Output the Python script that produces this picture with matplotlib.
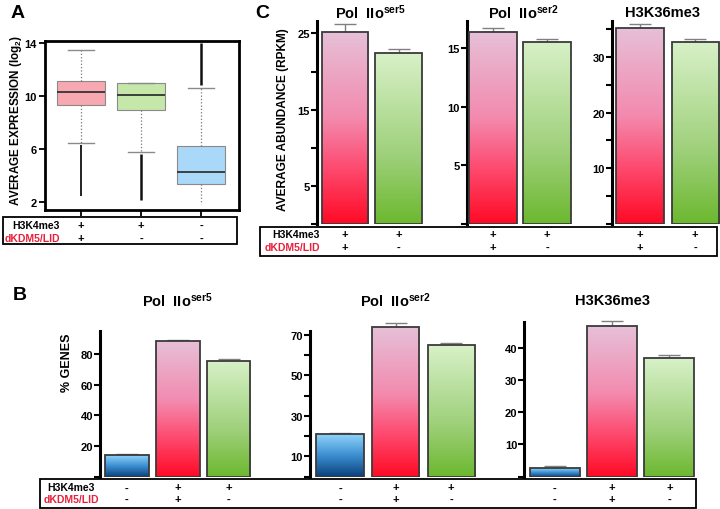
import numpy as np
import matplotlib
matplotlib.use('Agg')
import matplotlib.pyplot as plt
from matplotlib.colors import LinearSegmentedColormap
from matplotlib.patches import Rectangle
from matplotlib.transforms import blended_transform_factory

plt.rcParams['font.family'] = ['Liberation Sans', 'DejaVu Sans']
plt.rcParams['font.weight'] = 'bold'
plt.rcParams['mathtext.fontset'] = 'custom'
plt.rcParams['mathtext.rm'] = 'Liberation Sans:bold'
plt.rcParams['mathtext.it'] = 'Liberation Sans:bold'
plt.rcParams['mathtext.bf'] = 'Liberation Sans:bold'
plt.rcParams['mathtext.default'] = 'bf'

# ---- data ----
# panel A boxplots
a_med = [10.27, 10.04, 4.26]
a_q1 = [9.27, 8.89, 3.30]
a_q3 = [11.13, 10.98, 6.20]
a_whislo = [6.40, 5.74, 1.85]
a_whishi = [13.44, 10.98, 10.60]
a_flier_ranges = [(2.42, 6.25), (2.10, 5.60), (10.80, 14.0)]
a_h3k4 = ['+', '+', '-']
a_lid = ['+', '-', '-']

# panel B (% genes)
b_titles = ['Pol  IIo$^{ser5}$', 'Pol  IIo$^{ser2}$', 'H3K36me3']
b_ser5 = [13.9, 88.7, 75.7]
b_ser5_err = [0.6, 0.4, 0.8]
b_ser2 = [21.0, 73.8, 64.7]
b_ser2_err = [0.5, 2.0, 1.3]
b_h3k36 = [2.6, 46.7, 36.9]
b_h3k36_err = [0.6, 1.7, 1.0]
b_h3k4 = ['-', '+', '+']
b_lid = ['-', '+', '-']

# panel C (RPKM)
c_ser5 = [25.2, 22.4]
c_ser5_err = [1.1, 0.5]
c_ser2 = [16.4, 15.55]
c_ser2_err = [0.34, 0.25]
c_h3k36 = [35.2, 32.75]
c_h3k36_err = [0.7, 0.45]
c_h3k4 = ['+', '+']
c_lid = ['+', '-']

W, H = 720, 510
fig = plt.figure(figsize=(7.2, 5.1), dpi=100)

red_txt = '#e8203a'
pink_cm = LinearSegmentedColormap.from_list('pk', [(0, '#ff0a25'), (0.3, '#fd4d72'), (0.55, '#f38aae'), (1, '#e6c0d8')])
green_cm = LinearSegmentedColormap.from_list('gr', [(0, '#6cb82f'), (0.4, '#9ed07a'), (1, '#d8f1c8')])
blue_cm = LinearSegmentedColormap.from_list('bl', [(0, '#0a3f7a'), (0.5, '#3b8ed0'), (1, '#8fd3fa')])
grad = np.linspace(0, 1, 256).reshape(-1, 1)


def px_axes(x0, y0, x1, y1):
    return fig.add_axes([x0 / W, 1 - y1 / H, (x1 - x0) / W, (y1 - y0) / H])


def ftext(x, y, s, **kw):
    return fig.text(x / W, 1 - y / H, s, **kw)


def table_box(x0, y0, x1, y1):
    fig.add_artist(Rectangle((x0 / W, 1 - y1 / H), (x1 - x0) / W, (y1 - y0) / H,
                             transform=fig.transFigure, fill=False, lw=1.3, ec='k'))


def signs(axes, xs, r1, r2, row1, row2):
    for ax in axes:
        tr = blended_transform_factory(ax.transData, fig.transFigure)
        for x, s1, s2 in zip(xs, row1, row2):
            fig.text(x, 1 - r1 / H, s1, transform=tr, ha='center', va='center', fontsize=8)
            fig.text(x, 1 - r2 / H, s2, transform=tr, ha='center', va='center', fontsize=8)


def bar_panel(box, vals, errs, cmaps, width, xlim, ylim, spine_top, major, minor):
    ax = px_axes(*box)
    x = np.arange(len(vals))
    for i in range(len(vals)):
        bar = ax.bar(x[i], vals[i], width, color='none', edgecolor='#3a3a3a', lw=1.3, zorder=3)[0]
        img = ax.imshow(grad, cmap=cmaps[i], aspect='auto', origin='lower',
                        extent=(x[i] - width / 2, x[i] + width / 2, 0, vals[i]), zorder=2)
        img.set_clip_path(bar)
    ax.errorbar(x, vals, yerr=[np.zeros(len(vals)), errs], fmt='none', ecolor='#808080',
                elinewidth=1, capsize=8, capthick=1, zorder=1)
    ax.set_xlim(*xlim)
    ax.set_ylim(*ylim)
    for s in ['top', 'right', 'bottom']:
        ax.spines[s].set_visible(False)
    ax.spines['left'].set_linewidth(2.2)
    ax.spines['left'].set_bounds(0, spine_top)
    ax.set_xticks([])
    ax.set_yticks(major)
    ax.set_yticks(minor, minor=True)
    ax.tick_params(axis='y', which='both', direction='out', length=4, width=1.5, labelsize=8, pad=1)
    ax.set_facecolor('none')
    return ax, x


# ---- panel A ----
axA = px_axes(45, 42, 239, 211)
stats = []
for i in range(3):
    stats.append(dict(med=a_med[i], q1=a_q1[i], q3=a_q3[i], whislo=a_whislo[i],
                      whishi=a_whishi[i], fliers=[]))
bp = axA.bxp(stats, positions=[1, 2, 3], widths=0.81, patch_artist=True, showfliers=False,
             capwidths=0.43,
             boxprops=dict(edgecolor='#8a8a8a', lw=0.8),
             medianprops=dict(color='#333333', lw=1.3),
             whiskerprops=dict(color='#777777', ls=':', lw=0.9),
             capprops=dict(color='#8a8a8a', lw=1.0))
for patch, c in zip(bp['boxes'], ['#f8a8b0', '#c6e7aa', '#a9d8f8']):
    patch.set_facecolor(c)
bp['caps'][4].set_visible(False)
for pos, (lo, hi), lw in zip([1, 2, 3], a_flier_ranges, [1.3, 1.8, 1.8]):
    axA.vlines(pos, lo, hi, color='#111111', lw=lw, zorder=1)
axA.set_xlim(0.4, 3.63)
axA.set_ylim(1.37, 14.12)
axA.set_yticks([2, 6, 10, 14])
axA.set_xticks([1, 2, 3])
axA.set_xticklabels([])
axA.tick_params(direction='out', length=4, width=1.3, labelsize=8, pad=2)
for s in axA.spines.values():
    s.set_linewidth(2.0)
ftext(16, 120, 'AVERAGE EXPRESSION (log$_2$)', rotation=90, ha='center', va='center', fontsize=8.4)
ftext(18, 13, 'A', ha='center', va='center', fontsize=14)
table_box(3, 218, 237, 245)
ftext(60, 226, 'H3K4me3', ha='right', va='center', fontsize=7.5, color='k')
ftext(60, 239, 'dKDM5/LID', ha='right', va='center', fontsize=7.5, color=red_txt)
signs([axA], [1, 2, 3], 226, 239, a_h3k4, a_lid)

# ---- panel C ----
pg = [pink_cm, green_cm]
axC1, xc = bar_panel((317, 22.3, 425.5, 225), c_ser5, c_ser5_err, pg, 0.87, (-0.52, 1.5),
                     (0, 26.6), 26.6, [5, 15, 25], [0, 10, 20])
axC2, _ = bar_panel((466.7, 22.3, 574, 225), c_ser2, c_ser2_err, pg, 0.89, (-0.49, 1.5),
                    (0, 17.3), 17.3, [5, 10, 15], [0])
axC3, _ = bar_panel((612, 22.3, 720, 225), c_h3k36, c_h3k36_err, pg, 0.86, (-0.51, 1.45),
                    (0, 36.4), 36.4, [10, 20, 30], [0, 5, 15, 25, 35])
ftext(262, 13, 'C', ha='center', va='center', fontsize=14)
ftext(370, 13, 'Pol  IIo$^{ser5}$', ha='center', va='center', fontsize=10.5)
ftext(523, 13, 'Pol  IIo$^{ser2}$', ha='center', va='center', fontsize=10.5)
ftext(663, 13, 'H3K36me3', ha='center', va='center', fontsize=10.5)
ftext(283, 120, 'AVERAGE ABUNDANCE (RPKM)', rotation=90, ha='center', va='center', fontsize=8.6)
table_box(260, 228, 717, 257)
ftext(320, 235, 'H3K4me3', ha='right', va='center', fontsize=7.5, color='k')
ftext(320, 248, 'dKDM5/LID', ha='right', va='center', fontsize=7.5, color=red_txt)
signs([axC1, axC2, axC3], xc, 235, 248, c_h3k4, c_lid)

# ---- panel B ----
bpg = [blue_cm, pink_cm, green_cm]
axB1, xb = bar_panel((100, 331.7, 254, 477.7), b_ser5, b_ser5_err, bpg, 0.86, (-0.53, 2.5),
                     (0, 95.2), 95.2, [20, 40, 60, 80], [0])
axB2, _ = bar_panel((310, 321.4, 479, 477.7), b_ser2, b_ser2_err, bpg, 0.85, (-0.54, 2.5),
                    (0, 77), 71.6, [10, 30, 50, 70], [0, 20, 40, 60])
axB3, _ = bar_panel((524.3, 319.9, 698, 477.7), b_h3k36, b_h3k36_err, bpg, 0.87, (-0.53, 2.5),
                    (0, 49), 48, [10, 20, 30, 40], [0])
ftext(20, 296, 'B', ha='center', va='center', fontsize=14)
for ax, t in zip([axB1, axB2, axB3], b_titles):
    tr = blended_transform_factory(ax.transData, fig.transFigure)
    fig.text(1, 1 - 301 / H, t, transform=tr, ha='center', va='center', fontsize=10.5)
ftext(67, 363, '% GENES', rotation=90, ha='center', va='center', fontsize=9)
table_box(40, 480, 696, 509)
ftext(71, 488.5, 'H3K4me3', ha='center', va='center', fontsize=7.5, color='k')
ftext(71, 500, 'dKDM5/LID', ha='center', va='center', fontsize=7.5, color=red_txt)
signs([axB1, axB2, axB3], xb, 488.5, 500, b_h3k4, b_lid)

fig.savefig('out.png', dpi=100)
